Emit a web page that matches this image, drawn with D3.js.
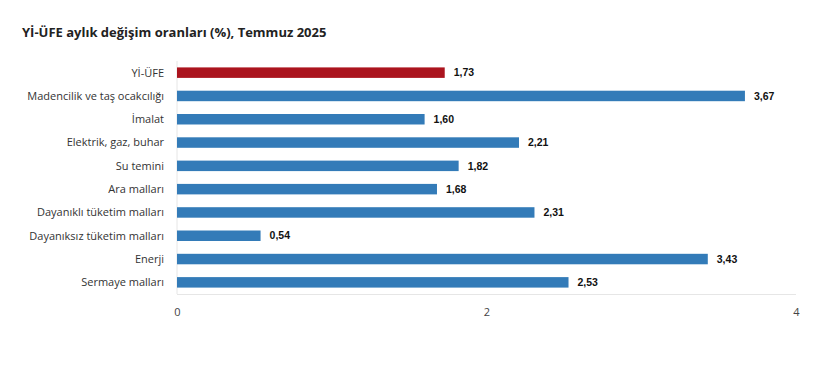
<!DOCTYPE html>
<meta charset="utf-8">
<head>
    <title>Yİ-ÜFE aylık değişim</title>
    <style>
        html, body { margin: 0; padding: 0; background: #fff; }
        body { font-family: "Open Sans", "Noto Sans", sans-serif; color: #333; }
        .title { font-size: 13px; font-weight: 700; fill: #222; }
        .cat { font-size: 11px; fill: #333; }
        .val { font-family: "Liberation Sans", Arial, sans-serif; font-size: 10.5px; font-weight: 700; fill: #111; }
        .tick text { font-size: 11px; fill: #444; }
    </style>
</head>
<body>
    <svg id="chart" width="822" height="365"></svg>
    <script src="https://cdn.jsdelivr.net/npm/d3@7"></script>
    <script>
        const categories = ['Yİ-ÜFE', 'Madencilik ve taş ocakcılığı', 'İmalat', 'Elektrik, gaz, buhar',
            'Su temini', 'Ara malları', 'Dayanıklı tüketim malları', 'Dayanıksız tüketim malları',
            'Enerji', 'Sermaye malları'];
        const values = [1.73, 3.67, 1.60, 2.21, 1.82, 1.68, 2.31, 0.54, 3.43, 2.53];
        const xTicks = [0, 2, 4];

        const svg = d3.select('#chart');

        svg.append('text')
            .attr('class', 'title')
            .attr('x', 22).attr('y', 37)
            .text('Yİ-ÜFE aylık değişim oranları (%), Temmuz 2025');

        let x = d3.scaleLinear().domain([0, 4]).range([177, 796]);
        let y = d3.scaleBand().domain(categories).range([61, 294])
                    .paddingInner(0.55).paddingOuter(0.275);

        // axis lines
        svg.append('line')
            .attr('x1', x(0)).attr('x2', x(0))
            .attr('y1', 61).attr('y2', 294)
            .attr('stroke', '#e6e6e6');
        svg.append('line')
            .attr('x1', x(0)).attr('x2', x(4))
            .attr('y1', 294.5).attr('y2', 294.5)
            .attr('stroke', '#e6e6e6');

        svg.append('g')
            .selectAll('rect')
            .data(values)
            .enter()
            .append('rect')
            .attr('x', x(0))
            .attr('y', (d, i) => y(categories[i]))
            .attr('width', d => x(d) - x(0))
            .attr('height', y.bandwidth())
            .attr('fill', (d, i) => i === 0 ? '#ab141e' : '#337bb8');

        svg.append('g')
            .selectAll('text')
            .data(values)
            .enter()
            .append('text')
            .attr('class', 'val')
            .attr('x', d => x(d) + 9)
            .attr('y', (d, i) => y(categories[i]) + y.bandwidth() / 2)
            .attr('dy', '0.35em')
            .text(d => d3.format('.2f')(d).replace('.', ','));

        svg.append('g')
            .selectAll('text')
            .data(categories)
            .enter()
            .append('text')
            .attr('class', 'cat')
            .attr('x', 164)
            .attr('y', d => y(d) + y.bandwidth() / 2)
            .attr('dy', '0.35em')
            .attr('text-anchor', 'end')
            .text(d => d);

        let xAxis = d3.axisBottom(x).tickValues(xTicks).tickFormat(d3.format('d'))
                        .tickSize(0).tickPadding(13);
        svg.append('g')
            .attr('transform', 'translate(0,295)')
            .call(xAxis)
            .call(g => g.select('.domain').remove())
            .selectAll('text').attr('font-family', '"Open Sans", sans-serif').attr('font-size', 11);
    </script>
</body>
</html>
